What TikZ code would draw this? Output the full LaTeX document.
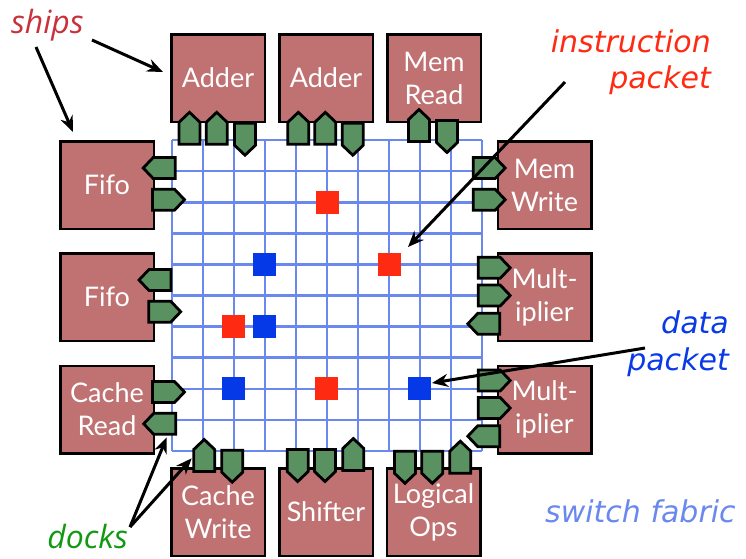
\documentclass[tikz,border=0pt]{standalone}
\usepackage{fontspec}
\setmainfont{Lato}
\newfontfamily\labfont{DejaVu Sans}
\newfontfamily\shipsfont{Open Sans}
\usetikzlibrary{arrows.meta}
\definecolor{shipc}{HTML}{C07272}
\definecolor{dockc}{HTML}{5A9160}
\definecolor{gridc}{HTML}{6A88EE}
\definecolor{redp}{HTML}{FF2A12}
\definecolor{bluep}{HTML}{0538E6}
\definecolor{shipsc}{HTML}{C8323A}
\definecolor{docksc}{HTML}{119A11}
\definecolor{datac}{HTML}{0A3AE8}
\definecolor{fabc}{HTML}{6A88EE}
\tikzset{
  ship/.style={draw=black, line width=2.5pt, fill=shipc, minimum width=93.5pt,
    minimum height=87.5pt, inner sep=0pt, text=white,
    font=\fontsize{27}{33}\selectfont, align=center},
  packet/.style={minimum size=23pt, inner sep=0pt},
  dockline/.style={draw=black, fill=dockc, line width=2.8pt, line join=miter},
  dockU/.pic={\path[dockline] (-10.5,16) -- (10.5,16) -- (10.5,-6) -- (0,-16) -- (-10.5,-6) -- cycle;},
  dockD/.pic={\path[dockline] (-10.5,-16) -- (10.5,-16) -- (10.5,6) -- (0,16) -- (-10.5,6) -- cycle;},
  dockL/.pic={\path[dockline] (16,-10.5) -- (16,10.5) -- (-6,10.5) -- (-16,0) -- (-6,-10.5) -- cycle;},
  dockR/.pic={\path[dockline] (-16,-10.5) -- (-16,10.5) -- (6,10.5) -- (16,0) -- (6,-10.5) -- cycle;},
  arr/.style={-{Stealth[length=16pt,width=13pt]}, line width=3pt, draw=black},
  italab/.style={inner sep=0pt, font=\labfont\itshape\fontsize{30}{36}\selectfont},
  callout/.style={inner sep=0pt, font=\shipsfont\itshape\fontsize{32}{36}\selectfont}
}
\begin{document}
\begin{tikzpicture}[x=1pt,y=-1pt]
\fill[white] (0,0) rectangle (746,558);
\useasboundingbox (0,0) rectangle (746,558);
% switch fabric grid
\foreach \i in {0,...,10}{
  \draw[gridc, line width=2.6pt] ({172+31*\i},140) -- ({172+31*\i},451);
  \draw[gridc, line width=2.6pt] (172,{140+31.1*\i}) -- (482,{140+31.1*\i});
}
% ships
\node[ship] (add1) at (218,78) {Adder};
\node[ship] (add2) at (326,78) {Adder};
\node[ship] (memr) at (434,78) {Mem\\Read};
\node[ship] (fifo1) at (107,185) {Fifo};
\node[ship] (fifo2) at (107,297) {Fifo};
\node[ship] (cread) at (107,409.5) {Cache\\Read};
\node[ship] (memw) at (544.5,185) {Mem\\Write};
\node[ship] (mul1) at (544.5,297) {Mult-\\iplier};
\node[ship] (mul2) at (544.5,409.5) {Mult-\\iplier};
\node[ship] (cwrite) at (218,512) {Cache\\Write};
\node[ship] (shift) at (326,512) {Shifter};
\node[ship] (logic) at (433.5,512) {Logical\\Ops};
% docks top
\pic at (189.5,128.3) {dockU};
\pic at (216.7,128.3) {dockU};
\pic at (245,139.2) {dockD};
\pic at (298.3,128.3) {dockU};
\pic at (325.3,128.3) {dockU};
\pic at (352.8,139.2) {dockD};
\pic at (419,125.5) {dockU};
\pic at (447,136.5) {dockD};
% docks left
\pic at (159.2,168) {dockL};
\pic at (168.5,199.7) {dockR};
\pic at (155,280) {dockL};
\pic at (164.7,311.7) {dockR};
\pic at (168.5,392) {dockR};
\pic at (159.7,423.8) {dockL};
% docks right
\pic at (489.2,168) {dockR};
\pic at (489.2,199.7) {dockR};
\pic at (494.2,267.8) {dockR};
\pic at (494.2,295.5) {dockR};
\pic at (483.8,323.8) {dockL};
\pic at (494.2,380.5) {dockR};
\pic at (494.2,408) {dockR};
\pic at (483.8,436.2) {dockL};
% docks bottom
\pic at (204.2,455.5) {dockU};
\pic at (232.2,466.2) {dockD};
\pic at (297.7,465.5) {dockD};
\pic at (325,465.5) {dockD};
\pic at (353.3,454.5) {dockU};
\pic at (405,467.3) {dockD};
\pic at (432.3,467.3) {dockD};
\pic at (460.3,457.2) {dockU};
% packets
\node[packet, fill=redp] (r1) at (327,202.2) {};
\node[packet, fill=redp] (r2) at (389,264.4) {};
\node[packet, fill=redp] (r3) at (233,326.6) {};
\node[packet, fill=redp] (r4) at (326,388.8) {};
\node[packet, fill=bluep] (b1) at (264.5,264.4) {};
\node[packet, fill=bluep] (b2) at (264.5,326.6) {};
\node[packet, fill=bluep] (b3) at (233.5,388.8) {};
\node[packet, fill=bluep] (b4) at (419.5,388.8) {};
% labels
\node[callout, anchor=base west, text=shipsc] (ships) at (11,33) {ships};
\node[callout, anchor=base east, text=docksc] (docks) at (128,548) {docks};
\node[italab, anchor=base east, align=right, text=redp] (instr) at (711,88) {instruction\\packet};
\node[italab, anchor=base east, align=right, text=datac, font=\labfont\itshape\fontsize{30}{37}\selectfont] (data) at (729,370) {data\\packet};
\node[italab, anchor=base west, text=fabc] (fabric) at (545,522) {switch fabric};
% arrow endpoints
\coordinate (sA) at (92,40);
\coordinate (sAt) at (163,72);
\coordinate (sB) at (36,47);
\coordinate (sBt) at (73,132);
\coordinate (iS) at (565,82);
\coordinate (iT) at (408,247);
\coordinate (dS) at (645,348);
\coordinate (dT) at (432,383);
\coordinate (kS) at (130,527);
\coordinate (kT1) at (166.7,437.3);
\coordinate (kT2) at (191.7,458.3);
\draw[arr] (sA) -- (sAt);
\draw[arr] (sB) -- (sBt);
\draw[arr] (iS) -- (iT);
\draw[arr] (dS) -- (dT);
\draw[arr] (kS) -- (kT1);
\draw[arr] (kS) -- (kT2);
\end{tikzpicture}
\end{document}
